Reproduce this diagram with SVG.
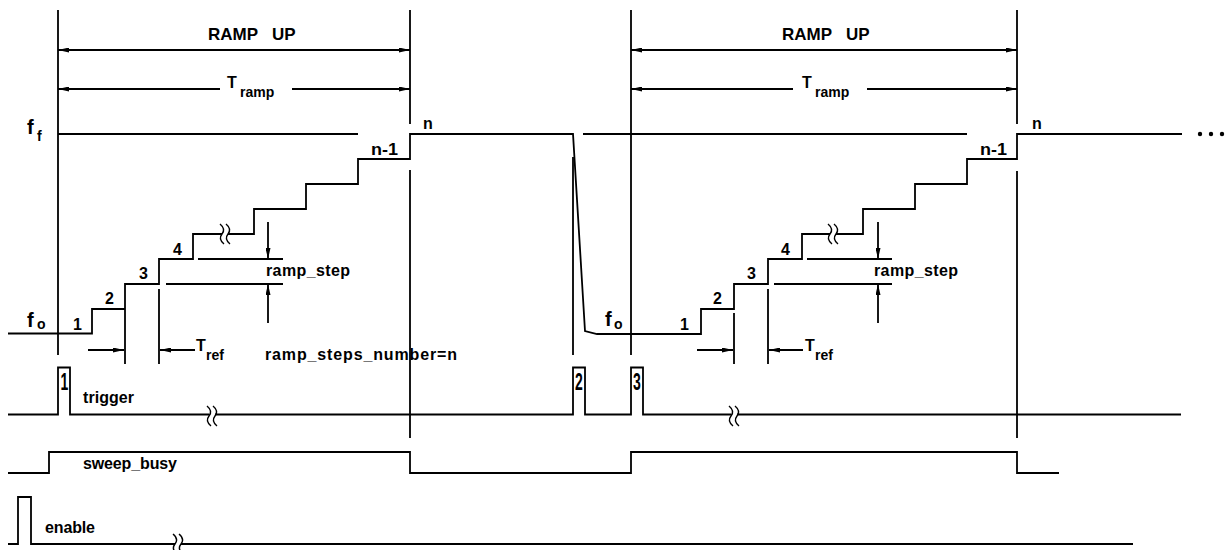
<svg xmlns="http://www.w3.org/2000/svg" xmlns:xlink="http://www.w3.org/1999/xlink" width="1228" height="550" viewBox="0 0 1228 550">
<style>
.ln{fill:none;stroke:#000;stroke-width:1.8;stroke-linejoin:miter;stroke-linecap:butt}
.br{fill:none;stroke:#000;stroke-width:1.4}
.t{font-family:"Liberation Sans",Arial,sans-serif;font-weight:bold;font-size:16px;fill:#000}
.big{font-size:17px}
.sub{font-size:14px}
.fs{font-size:20px}
.fsub{font-size:14px}
.ar{marker-end:url(#ah)}
.ar2{marker-start:url(#ah);marker-end:url(#ah)}
</style>
<defs>
<marker id="ah" viewBox="0 0 11 5" refX="11" refY="2.5" markerWidth="11" markerHeight="5" orient="auto-start-reverse" markerUnits="userSpaceOnUse">
<path d="M0,0 L11,2.5 L0,5 z" fill="#000"/>
</marker>
<g id="brk">
<path class="br" d="M-5,-10 Q1,-5 -3,0 Q-7,5 -1,10"/>
<path class="br" d="M1,-10 Q7,-5 3,0 Q-1,5 5,10"/>
</g>
</defs>
<rect width="1228" height="550" fill="#fff"/>

<g id="connectors">
<path class="ln" d="M58,10 V355 M410,10 V124 M410,170 V438 M631,10 V355 M1017,10 V124 M1017,171 V438 M573,157 V355"/>
<path class="ln" d="M8,333.5 H92 V309 H125 V284 H159 V259 H193 V234 H222 M228,234 H254 V209 H306 V184 H358 V159 H410 V134 H573 L585,331 L597,334 H701 V309 H734 V284 H768 V259 H802 V234 H830 M836,234 H863 V209 H915 V184 H967 V159 H1017 V134 H1182"/>
<path class="ln" d="M58,134 H358 M583,134 H967"/>
<path class="ln ar2" d="M58,50 H410"/>
<path class="ln ar2" d="M631,50 H1017"/>
<path class="ln ar" d="M220,89 H58"/>
<path class="ln ar" d="M292,89 H410"/>
<path class="ln ar" d="M793,89 H631"/>
<path class="ln ar" d="M867,89 H1017"/>
<path class="ln" d="M198,259 H283 M166,284 H283 M807,259 H892 M774,284 H892"/>
<path class="ln ar" d="M268,222 V259"/>
<path class="ln ar" d="M268,323 V284"/>
<path class="ln ar" d="M878,222 V259"/>
<path class="ln ar" d="M878,323 V284"/>
<path class="ln" d="M125,310 V364 M159,289 V364 M734,313 V364 M768,289 V364"/>
<path class="ln ar" d="M88,350 H124"/>
<path class="ln ar" d="M195,350 H160"/>
<path class="ln ar" d="M697,350 H733"/>
<path class="ln ar" d="M803,350 H769"/>
<path class="ln" d="M8,414.5 H58 V367.5 H70 V414.5 H209 M215,414.5 H573 V367.5 H585 V414.5 H631 V367.5 H643 V414.5 H731 M737,414.5 H1181"/>
<path class="ln" d="M8,473 H49 V452 H410 V473 H631 V452 H1017 V473 H1059"/>
<path class="ln" d="M8,544 H18 V497 H31 V544 H175 M181,544 H1133"/>
<use xlink:href="#brk" x="225" y="234"/>
<use xlink:href="#brk" x="833" y="234"/>
<use xlink:href="#brk" x="212" y="416"/>
<use xlink:href="#brk" x="734" y="416"/>
<use xlink:href="#brk" x="178" y="544"/>
<circle cx="1200" cy="134" r="2.2" fill="#000"/>
<circle cx="1211" cy="134" r="2.2" fill="#000"/>
<circle cx="1222" cy="134" r="2.2" fill="#000"/>
</g>

<g id="label-ramp-up-1"><text class="t big"><tspan x="208" y="40">RAMP</tspan><tspan x="272" y="40">UP</tspan></text></g>
<g id="label-ramp-up-2"><text class="t big"><tspan x="782" y="40">RAMP</tspan><tspan x="846" y="40">UP</tspan></text></g>
<g id="label-tramp-1"><text class="t" x="227" y="88">T<tspan class="sub" x="240" y="96.5">ramp</tspan></text></g>
<g id="label-tramp-2"><text class="t" x="802" y="88">T<tspan class="sub" x="815" y="96.5">ramp</tspan></text></g>
<g id="label-ff"><text class="t fs" x="27" y="134">f<tspan class="fsub" x="37" y="141">f</tspan></text></g>
<g id="label-fo-1"><text class="t fs" x="27" y="327">f<tspan class="fsub" x="37" y="329">o</tspan></text></g>
<g id="label-fo-2"><text class="t fs" x="605" y="326">f<tspan class="fsub" x="614" y="329">o</tspan></text></g>

<g id="steps-1">
<text class="t" x="73" y="330">1</text>
<text class="t" x="105" y="304">2</text>
<text class="t" x="139" y="279">3</text>
<text class="t" x="173" y="255">4</text>
<text class="t" x="371" y="155" textLength="27" lengthAdjust="spacingAndGlyphs">n-1</text>
<text class="t" x="423" y="129">n</text>
</g>
<g id="steps-2">
<text class="t" x="680" y="330">1</text>
<text class="t" x="713" y="304">2</text>
<text class="t" x="747" y="279">3</text>
<text class="t" x="781" y="255">4</text>
<text class="t" x="980" y="155" textLength="27" lengthAdjust="spacingAndGlyphs">n-1</text>
<text class="t" x="1032" y="129">n</text>
</g>

<g id="label-ramp-step-1"><text class="t" x="266" y="276" textLength="84">ramp_step</text></g>
<g id="label-ramp-step-2"><text class="t" x="874" y="276" textLength="84">ramp_step</text></g>
<g id="label-tref-1"><text class="t" x="196" y="351">T<tspan class="sub" x="206" y="360">ref</tspan></text></g>
<g id="label-tref-2"><text class="t" x="805" y="351">T<tspan class="sub" x="815" y="360">ref</tspan></text></g>
<g id="label-steps-number"><text class="t" x="265" y="360" textLength="192">ramp_steps_number=n</text></g>

<g id="trigger-labels">
<text class="t" text-anchor="middle" transform="translate(64.5,389.5) scale(1,1.65)" style="font-size:14px">1</text>
<text class="t" text-anchor="middle" transform="translate(579,389.5) scale(1,1.65)" style="font-size:14px">2</text>
<text class="t" text-anchor="middle" transform="translate(637,389.5) scale(1,1.65)" style="font-size:14px">3</text>
<text class="t" x="83" y="403" textLength="51">trigger</text>
</g>
<g id="label-sweep-busy"><text class="t" x="83" y="469" textLength="94">sweep_busy</text></g>
<g id="label-enable"><text class="t" x="45" y="533" textLength="50">enable</text></g>
</svg>
